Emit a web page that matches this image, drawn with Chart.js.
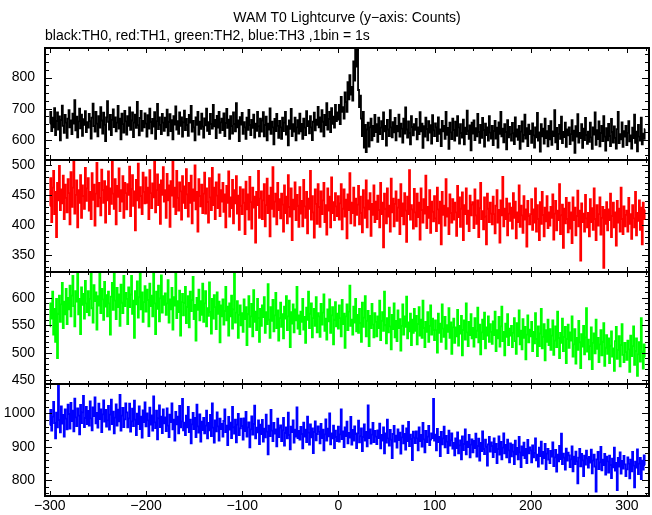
<!DOCTYPE html>
<html>
<head>
<meta charset="utf-8">
<title>WAM T0 Lightcurve</title>
<script src="https://cdn.jsdelivr.net/npm/chart.js@4.4.0/dist/chart.umd.min.js"></script>
<style>
  html, body { margin: 0; padding: 0; background: #fff; }
  #wrap { position: relative; width: 652px; height: 515px; font-family: "Liberation Sans", Arial, sans-serif; color: #000; }
  #lc { position: absolute; left: 0; top: 0; }
  .txt { position: absolute; font-size: 14px; line-height: 16px; white-space: nowrap; z-index: 2; }
  #title { left: 47px; width: 600px; top: 9px; text-align: center; }
  #subtitle { left: 45px; top: 27px; }
</style>
</head>
<body>
<div id="wrap">
  <div class="txt" id="title">WAM T0 Lightcurve (y&#8722;axis: Counts)</div>
  <div class="txt" id="subtitle">black:TH0, red:TH1, green:TH2, blue:TH3 ,1bin = 1s</div>
  <canvas id="lc" width="652" height="515"></canvas>
</div>
<script>
// time of first bin (s), 1 bin = 1 s
const firstBin = -300;

// x axis tick labels
const xTickValues = [-300, -200, -100, 0, 100, 200, 300];

// y tick labels per panel
const th0Ticks = [600, 700, 800];
const th1Ticks = [350, 400, 450, 500];
const th2Ticks = [450, 500, 550, 600];
const th3Ticks = [800, 900, 1000];

// TH0 (black) counts, -300 .. 319 s
const th0Counts = [
  652, 690, 628, 671, 640, 702, 615, 660, 688, 633, 675, 598, 664, 710, 645, 622, 680, 655, 606, 668,
  695, 640, 662, 618, 684, 652, 727, 630, 674, 608, 659, 700, 637, 681, 613, 666, 648, 692, 625, 657,
  639, 683, 660, 604, 671, 716, 644, 626, 690, 652, 611, 676, 639, 705, 662, 620, 687, 648, 596, 672,
  724, 658, 633, 680, 615, 664, 698, 641, 672, 627, 655, 709, 636, 668, 601, 684, 650, 623, 693, 659,
  617, 676, 645, 704, 632, 662, 688, 609, 655, 681, 638, 722, 647, 614, 670, 693, 629, 661, 640, 685,
  652, 610, 679, 636, 700, 658, 621, 667, 642, 689, 603, 660, 715, 634, 672, 648, 618, 683, 655, 629,
  671, 640, 697, 614, 658, 682, 628, 663, 601, 676, 649, 707, 633, 660, 619, 688, 645, 672, 610, 656,
  694, 631, 667, 648, 613, 680, 655, 709, 626, 661, 640, 598, 672, 648, 690, 617, 658, 635, 684, 642,
  607, 669, 646, 700, 629, 657, 618, 683, 651, 636, 712, 643, 664, 605, 677, 639, 690, 622, 656, 668,
  631, 685, 612, 654, 699, 638, 665, 603, 676, 644, 620, 688, 651, 627, 718, 640, 662, 596, 673, 649,
  686, 619, 657, 640, 603, 671, 632, 696, 648, 615, 664, 638, 681, 607, 652, 629, 690, 643, 611, 668,
  626, 662, 689, 611, 647, 674, 598, 652, 633, 701, 619, 658, 640, 585, 667, 628, 683, 645, 606, 661,
  640, 603, 671, 628, 655, 690, 617, 644, 582, 662, 635, 699, 612, 650, 626, 671, 598, 640, 663, 620,
  684, 627, 651, 603, 668, 639, 615, 692, 644, 660, 621, 676, 640, 599, 658, 687, 630, 665, 648, 706,
  640, 672, 626, 695, 658, 611, 680, 647, 718, 633, 667, 690, 625, 702, 651, 674, 639, 712, 660, 688,
  665, 712, 650, 738, 690, 705, 668, 752, 721, 690, 785, 730, 808, 745, 770, 726, 852, 790, 900, 835,
  905, 760, 705, 742, 668, 612, 690, 575, 648, 560, 633, 655, 578, 640, 668, 598, 645, 612, 680, 625,
  650, 593, 671, 618, 639, 660, 602, 688, 627, 645, 581, 664, 633, 612, 695, 640, 608, 657, 624, 670,
  598, 645, 627, 681, 610, 652, 636, 591, 668, 620, 704, 633, 607, 659, 622, 585, 676, 641, 614, 650,
  632, 667, 601, 640, 618, 689, 627, 652, 574, 644, 610, 671, 635, 598, 660, 623, 647, 588, 679, 630,
  612, 653, 640, 596, 672, 619, 633, 580, 661, 627, 645, 603, 690, 616, 638, 571, 655, 624, 602, 668,
  631, 597, 658, 613, 676, 640, 588, 650, 622, 607, 665, 585, 639, 618, 694, 629, 603, 646, 566, 655,
  620, 662, 599, 637, 611, 683, 625, 590, 648, 606, 670, 631, 578, 652, 615, 640, 597, 676, 623, 604,
  645, 583, 628, 661, 604, 639, 575, 656, 619, 690, 611, 636, 592, 650, 625, 569, 663, 608, 641, 617,
  597, 654, 621, 586, 672, 610, 633, 600, 645, 571, 626, 659, 594, 615, 681, 604, 637, 580, 649, 618,
  629, 590, 653, 614, 575, 640, 608, 686, 597, 624, 562, 650, 611, 636, 588, 668, 605, 628, 579, 645,
  601, 660, 584, 627, 612, 695, 592, 638, 570, 619, 648, 603, 674, 589, 625, 609, 655, 577, 633, 614,
  640, 586, 618, 663, 597, 629, 558, 644, 610, 682, 591, 622, 605, 650, 574, 636, 599, 670, 615, 587,
  626, 593, 655, 608, 571, 640, 617, 688, 584, 631, 602, 659, 579, 622, 645, 596, 676, 610, 565, 637,
  598, 651, 612, 580, 667, 625, 591, 643, 606, 572, 634, 690, 589, 618, 601, 656, 577, 628, 610, 645,
  583, 622, 660, 595, 614, 572, 639, 605, 681, 590, 626, 563, 648, 610, 597, 671, 585, 620, 603, 634
];

// TH1 (red) counts
const th1Counts = [
  432, 478, 405, 462, 490, 418, 455, 380, 470, 441, 498, 425, 459, 436, 482, 410, 467, 445, 421, 476,
  453, 401, 488, 430, 462, 505, 419, 450, 474, 396, 458, 437, 483, 412, 466, 448, 427, 495, 440, 461,
  478, 424, 455, 410, 486, 442, 467, 399, 452, 503, 431, 470, 445, 416, 492, 458, 437, 473, 404, 464,
  441, 489, 418, 461, 435, 508, 452, 427, 476, 401, 465, 447, 494, 423, 458, 439, 481, 412, 470, 453,
  426, 468, 450, 497, 415, 460, 483, 432, 456, 391, 475, 441, 502, 429, 463, 448, 418, 487, 455, 436,
  479, 437, 462, 410, 491, 453, 428, 469, 446, 505, 421, 458, 484, 433, 467, 402, 474, 450, 496, 439,
  458, 412, 485, 441, 466, 397, 473, 449, 506, 430, 462, 418, 490, 445, 424, 471, 456, 409, 481, 437,
  464, 428, 493, 451, 414, 470, 437, 482, 403, 459, 440, 499, 426, 455, 389, 476, 448, 431, 467, 420,
  452, 487, 419, 461, 438, 404, 478, 446, 425, 495, 433, 462, 410, 471, 449, 428, 484, 415, 458, 439,
  470, 422, 451, 396, 465, 437, 489, 414, 446, 428, 475, 403, 458, 436, 481, 419, 449, 392, 463, 432,
  418, 459, 437, 385, 472, 426, 451, 409, 480, 438, 394, 462, 429, 447, 371, 455, 433, 490, 412, 444,
  456, 410, 441, 468, 398, 433, 477, 420, 449, 381, 462, 427, 496, 414, 439, 452, 401, 470, 425, 443,
  411, 452, 434, 389, 466, 420, 447, 403, 483, 430, 414, 461, 375, 442, 426, 471, 408, 450, 432, 397,
  463, 419, 440, 398, 475, 431, 412, 455, 386, 444, 427, 490, 409, 448, 421, 379, 459, 435, 402, 468,
  430, 397, 456, 418, 441, 470, 405, 433, 384, 461, 424, 447, 396, 479, 420, 438, 408, 453, 431, 415,
  448, 409, 436, 468, 393, 427, 459, 414, 442, 378, 451, 425, 486, 403, 437, 420, 462, 399, 444, 417,
  434, 465, 401, 447, 420, 388, 458, 429, 412, 474, 396, 441, 426, 453, 382, 435, 417, 466, 405, 439,
  410, 449, 425, 396, 470, 418, 437, 363, 452, 427, 403, 461, 414, 432, 389, 477, 421, 444, 398, 435,
  456, 407, 429, 442, 385, 468, 415, 436, 401, 453, 424, 372, 447, 418, 491, 409, 433, 426, 394, 460,
  421, 398, 452, 413, 437, 376, 461, 425, 404, 443, 419, 482, 395, 430, 412, 458, 387, 439, 422, 406,
  448, 411, 390, 462, 426, 403, 439, 368, 455, 417, 432, 399, 476, 414, 428, 385, 451, 420, 404, 443,
  409, 437, 421, 382, 465, 413, 446, 397, 427, 454, 375, 433, 418, 461, 402, 424, 390, 449, 416, 434,
  438, 395, 459, 416, 402, 441, 380, 428, 470, 410, 423, 393, 446, 414, 368, 452, 427, 405, 437, 419,
  401, 447, 418, 386, 432, 458, 404, 425, 371, 441, 416, 480, 398, 427, 410, 444, 383, 419, 436, 407,
  429, 394, 453, 412, 439, 378, 421, 405, 466, 397, 432, 416, 387, 448, 409, 426, 364, 440, 415, 401,
  418, 443, 392, 426, 404, 461, 389, 433, 410, 375, 438, 402, 455, 417, 381, 429, 406, 448, 395, 421,
  399, 430, 412, 451, 376, 419, 440, 391, 424, 408, 468, 385, 416, 434, 362, 427, 403, 445, 410, 388,
  437, 394, 421, 370, 446, 408, 429, 383, 415, 457, 398, 424, 341, 436, 405, 419, 389, 450, 411, 396,
  420, 381, 443, 405, 428, 392, 461, 410, 375, 433, 399, 418, 446, 384, 412, 430, 329, 425, 402, 438,
  391, 426, 408, 452, 380, 415, 437, 396, 421, 366, 440, 404, 427, 389, 462, 410, 385, 431, 398, 417,
  424, 389, 445, 402, 418, 377, 433, 411, 396, 455, 383, 420, 407, 441, 392, 429, 368, 437, 410, 425
];

// TH2 (green) counts
const th2Counts = [
  548, 590, 562, 611, 533, 580, 520, 598, 490, 571, 604, 556, 588, 627, 545, 593, 570, 616, 552, 600,
  579, 622, 566, 604, 640, 585, 548, 612, 593, 651, 570, 598, 534, 619, 587, 607, 562, 631, 590, 574,
  612, 568, 598, 645, 581, 555, 623, 594, 610, 542, 603, 586, 648, 572, 616, 597, 560, 629, 584, 605,
  566, 611, 590, 533, 602, 627, 578, 650, 595, 561, 618, 583, 606, 549, 624, 591, 572, 640, 585, 609,
  598, 552, 619, 583, 606, 640, 571, 595, 527, 612, 588, 630, 564, 601, 647, 579, 610, 556, 592, 621,
  575, 615, 596, 548, 626, 585, 604, 566, 645, 590, 534, 611, 580, 622, 557, 599, 641, 573, 603, 587,
  608, 569, 590, 632, 555, 597, 579, 618, 542, 601, 586, 649, 563, 594, 574, 613, 531, 592, 607, 568,
  591, 620, 554, 583, 603, 546, 611, 576, 596, 638, 561, 587, 522, 600, 578, 615, 559, 594, 569, 626,
  556, 590, 612, 548, 581, 567, 628, 574, 535, 598, 562, 605, 583, 543, 610, 571, 593, 519, 586, 566,
  597, 551, 576, 620, 559, 584, 531, 590, 566, 604, 544, 579, 648, 555, 573, 594, 527, 569, 586, 550,
  572, 538, 597, 561, 583, 514, 570, 603, 547, 566, 589, 530, 614, 556, 575, 541, 598, 563, 520, 580,
  549, 586, 565, 601, 536, 574, 552, 625, 560, 527, 583, 558, 596, 539, 568, 609, 545, 577, 522, 563,
  591, 547, 570, 526, 584, 562, 603, 541, 566, 595, 510, 574, 553, 588, 537, 579, 559, 620, 544, 568,
  534, 575, 556, 598, 542, 565, 518, 582, 560, 611, 545, 571, 590, 528, 563, 580, 549, 601, 537, 572,
  566, 529, 589, 551, 573, 606, 540, 562, 524, 579, 557, 597, 536, 568, 583, 515, 560, 592, 548, 571,
  544, 586, 563, 530, 596, 552, 571, 509, 566, 588, 541, 575, 622, 549, 560, 533, 584, 555, 598, 539,
  569, 536, 580, 554, 520, 591, 547, 564, 603, 530, 558, 576, 512, 567, 545, 589, 551, 528, 572, 556,
  530, 566, 545, 595, 523, 558, 574, 540, 611, 550, 517, 563, 537, 582, 548, 506, 569, 543, 590, 528,
  558, 521, 577, 545, 561, 504, 549, 588, 533, 566, 547, 602, 526, 555, 539, 571, 514, 560, 536, 580,
  540, 567, 515, 552, 583, 531, 560, 527, 595, 545, 510, 556, 538, 574, 520, 549, 586, 533, 562, 541,
  523, 559, 541, 500, 571, 536, 553, 520, 588, 544, 529, 565, 507, 550, 538, 581, 527, 555, 498, 546,
  562, 518, 546, 530, 578, 513, 549, 535, 567, 495, 541, 559, 524, 590, 537, 512, 556, 532, 570, 526,
  545, 511, 563, 528, 540, 582, 519, 551, 497, 537, 560, 525, 573, 508, 546, 531, 566, 520, 552, 538,
  516, 557, 532, 575, 503, 541, 526, 565, 511, 548, 584, 521, 538, 495, 553, 529, 570, 514, 544, 531,
  549, 510, 536, 563, 521, 498, 554, 530, 577, 515, 540, 506, 561, 527, 547, 488, 533, 568, 519, 542,
  530, 556, 503, 538, 517, 572, 525, 494, 548, 512, 535, 580, 508, 529, 552, 486, 541, 520, 560, 514,
  543, 505, 531, 559, 496, 522, 548, 510, 575, 527, 490, 536, 518, 562, 503, 529, 547, 481, 525, 551,
  509, 537, 522, 566, 493, 515, 543, 480, 527, 505, 558, 519, 472, 534, 511, 549, 497, 528, 581, 502,
  524, 488, 512, 546, 470, 518, 535, 499, 560, 507, 527, 483, 515, 541, 495, 520, 554, 476, 509, 532,
  498, 526, 481, 513, 539, 493, 508, 467, 521, 547, 489, 505, 530, 475, 514, 552, 496, 483, 518, 501,
  487, 522, 506, 465, 531, 494, 512, 548, 478, 503, 526, 458, 497, 519, 484, 563, 501, 471, 515, 492
];

// TH3 (blue) counts
const th3Counts = [
  965, 1010, 948, 990, 1034, 971, 925, 1002, 958, 1088, 980, 943, 1021, 969, 995, 930, 1012, 984, 952, 1026,
  998, 954, 1031, 977, 1008, 946, 1044, 988, 962, 1015, 993, 937, 1025, 971, 1003, 1052, 959, 986, 1019, 968,
  1007, 963, 1036, 985, 949, 1018, 992, 1048, 970, 1001, 957, 1029, 983, 1012, 944, 997, 1039, 975, 1010, 960,
  979, 1022, 951, 996, 1041, 968, 1005, 940, 987, 1027, 963, 1011, 976, 1055, 948, 993, 1016, 959, 982, 1030,
  1003, 958, 985, 1029, 945, 976, 1014, 962, 1038, 981, 935, 999, 968, 1021, 953, 990, 927, 1009, 974, 1033,
  961, 1000, 979, 932, 1017, 966, 994, 948, 1051, 973, 956, 1008, 922, 985, 1024, 959, 990, 941, 1012, 970,
  988, 947, 1015, 963, 929, 996, 974, 1030, 952, 981, 918, 1004, 967, 990, 940, 1022, 958, 976, 1043, 949,
  972, 935, 993, 958, 1019, 944, 981, 910, 967, 1001, 953, 986, 929, 1026, 961, 942, 997, 915, 975, 950,
  986, 940, 963, 1008, 925, 971, 949, 995, 932, 1030, 957, 912, 979, 946, 1003, 961, 918, 984, 953, 968,
  930, 977, 1012, 944, 963, 905, 989, 951, 972, 926, 1019, 958, 939, 981, 913, 966, 998, 935, 955, 984,
  962, 921, 985, 947, 1004, 930, 958, 973, 898, 952, 991, 936, 968, 1023, 925, 957, 943, 979, 908, 966,
  938, 980, 915, 954, 928, 996, 945, 877, 963, 932, 1010, 948, 917, 971, 939, 952, 901, 984, 929, 957,
  964, 917, 949, 986, 903, 941, 958, 925, 1002, 935, 892, 960, 944, 979, 912, 951, 930, 1018, 926, 947,
  921, 959, 938, 895, 972, 930, 951, 914, 990, 942, 906, 967, 928, 955, 881, 944, 976, 919, 938, 961,
  945, 910, 968, 926, 951, 889, 937, 982, 918, 954, 931, 1000, 907, 940, 925, 963, 896, 948, 929, 917,
  960, 915, 937, 1012, 923, 946, 899, 958, 932, 975, 910, 941, 927, 989, 906, 950, 918, 961, 938, 896,
  940, 978, 913, 931, 955, 887, 929, 967, 918, 944, 901, 1024, 926, 952, 909, 936, 971, 914, 947, 930,
  908, 949, 926, 969, 895, 935, 918, 958, 880, 940, 912, 981, 925, 903, 950, 921, 866, 938, 962, 915,
  933, 897, 952, 920, 942, 879, 928, 963, 910, 938, 891, 955, 917, 974, 902, 936, 923, 860, 945, 927,
  911, 946, 925, 889, 958, 917, 935, 900, 971, 922, 883, 947, 914, 930, 962, 905, 921, 940, 926, 1043,
  918, 936, 889, 953, 914, 929, 872, 944, 907, 925, 960, 898, 932, 915, 881, 948, 903, 919, 940, 894,
  911, 874, 925, 896, 943, 880, 904, 919, 862, 931, 890, 908, 952, 877, 915, 899, 935, 868, 906, 922,
  883, 917, 896, 939, 870, 902, 924, 858, 911, 887, 946, 893, 878, 921, 900, 843, 907, 929, 885, 913,
  902, 869, 925, 884, 908, 851, 893, 931, 876, 914, 862, 897, 940, 880, 905, 868, 921, 889, 853, 910,
  871, 906, 885, 848, 918, 877, 896, 862, 929, 883, 839, 901, 874, 912, 866, 893, 851, 920, 880, 898,
  889, 853, 904, 868, 881, 925, 859, 876, 840, 897, 872, 915, 849, 884, 866, 908, 833, 879, 893, 861,
  851, 887, 870, 913, 842, 868, 890, 825, 876, 856, 902, 863, 939, 848, 879, 867, 831, 894, 858, 882,
  874, 839, 862, 901, 826, 870, 848, 885, 856, 790, 867, 893, 841, 878, 859, 812, 873, 846, 888, 865,
  837, 869, 852, 891, 820, 858, 876, 840, 765, 862, 884, 833, 853, 899, 829, 861, 845, 878, 816, 870,
  856, 822, 873, 845, 806, 864, 838, 897, 828, 851, 770, 866, 840, 883, 819, 857, 834, 872, 847, 812,
  832, 868, 849, 805, 861, 826, 884, 843, 778, 855, 837, 892, 818, 849, 866, 803, 858, 831, 874, 845
];

// panel setup, top to bottom
const panels = [
  { id: 'y0', counts: th0Counts, color: '#000000', min: 535, max: 895, ticks: th0Ticks, minor: 25 },
  { id: 'y1', counts: th1Counts, color: '#ff0000', min: 322, max: 508, ticks: th1Ticks, minor: 10 },
  { id: 'y2', counts: th2Counts, color: '#00ff00', min: 443, max: 647, ticks: th2Ticks, minor: 10 },
  { id: 'y3', counts: th3Counts, color: '#0000ff', min: 752, max: 1088, ticks: th3Ticks, minor: 20 }
];

const tickFont = { family: '"Liberation Sans", Arial, sans-serif', size: 14 };
const label = v => v < 0 ? '\u2212' + Math.abs(v) : String(v);

function toPoints(counts) {
  return counts.map((c, i) => ({ x: firstBin + i, y: c }));
}

const scales = {
  x: {
    type: 'linear',
    min: -305,
    max: 323,
    grid: { display: false, drawTicks: false },
    border: { display: false },
    afterBuildTicks: s => { s.ticks = xTickValues.map(v => ({ value: v })); },
    afterFit: s => { s.height = 19; },
    ticks: { color: '#000', font: tickFont, padding: 2, maxRotation: 0, autoSkip: false, callback: v => label(v) }
  }
};
// later axes get stacked on top, so add bottom panel first
panels.slice().reverse().forEach(p => {
  scales[p.id] = {
    type: 'linear',
    position: 'left',
    stack: 'panels',
    stackWeight: 1,
    min: p.min,
    max: p.max,
    grid: { display: false, drawTicks: false },
    border: { display: false },
    afterBuildTicks: s => { s.ticks = p.ticks.map(v => ({ value: v })); },
    afterFit: s => { s.width = 45; },
    ticks: { color: '#000', font: tickFont, padding: 10, autoSkip: false, callback: v => label(v) }
  };
});

// frames + inward tick marks, like the original plot
const framePlugin = {
  id: 'frames',
  afterDatasetsDraw(chart) {
    const { ctx, chartArea, scales } = chart;
    const xs = scales.x;
    const left = chartArea.left, right = chartArea.right;
    ctx.save();
    ctx.strokeStyle = '#000';
    panels.forEach(p => {
      const ys = scales[p.id];
      const top = ys.top, bottom = ys.bottom;
      ctx.lineWidth = 1;
      ctx.beginPath();
      for (let v = -300; v <= xs.max; v += 20) {
        const px = Math.round(xs.getPixelForValue(v)) + 0.5;
        const len = v % 100 === 0 ? 5 : 3;
        ctx.moveTo(px, top); ctx.lineTo(px, top + len);
        ctx.moveTo(px, bottom); ctx.lineTo(px, bottom - len);
      }
      for (let v = Math.ceil(p.min / p.minor) * p.minor; v <= p.max; v += p.minor) {
        const py = Math.round(ys.getPixelForValue(v)) + 0.5;
        const len = p.ticks.includes(v) ? 7 : 4;
        ctx.moveTo(left, py); ctx.lineTo(left + len, py);
        ctx.moveTo(right, py); ctx.lineTo(right - len, py);
      }
      ctx.stroke();
      ctx.lineWidth = 2;
      ctx.strokeRect(left, top, right - left, bottom - top);
    });
    ctx.restore();
  }
};

new Chart(document.getElementById('lc').getContext('2d'), {
  type: 'line',
  data: {
    datasets: panels.map(p => ({
      data: toPoints(p.counts),
      yAxisID: p.id,
      borderColor: p.color,
      borderWidth: 1.8,
      pointRadius: 0,
      stepped: 'middle',
      clip: 0
    }))
  },
  options: {
    responsive: false,
    animation: false,
    devicePixelRatio: 1,
    parsing: false,
    normalized: true,
    layout: { padding: { top: 48, right: 3, left: 0, bottom: 0 } },
    plugins: { legend: { display: false }, tooltip: { enabled: false } },
    scales: scales
  },
  plugins: [framePlugin]
});
</script>
</body>
</html>
